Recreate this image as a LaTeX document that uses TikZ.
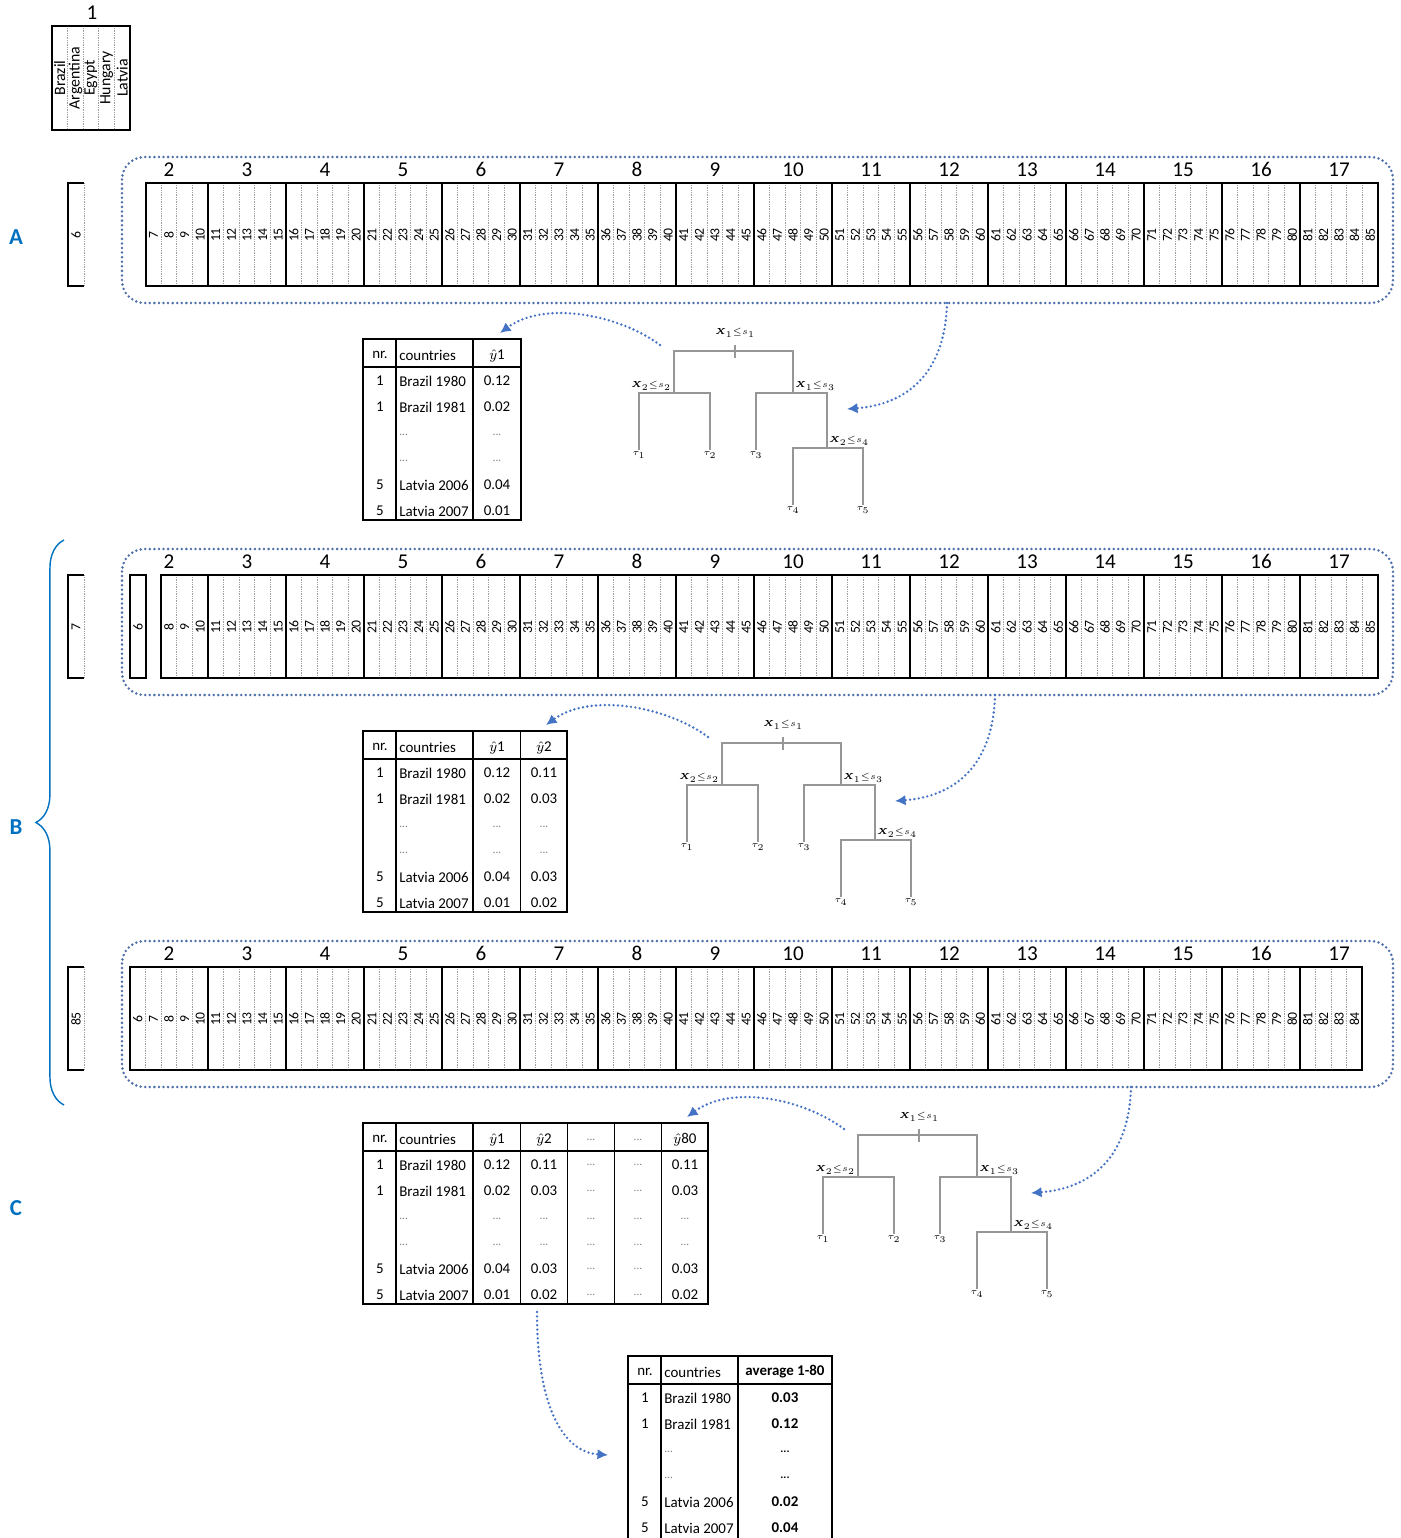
\documentclass[tikz,border=0pt]{standalone}
\usepackage{bm}
\usepackage{fontspec}
\setmainfont{Carlito}
\usetikzlibrary{arrows.meta,calc,decorations.pathreplacing}

\definecolor{frameblue}{RGB}{79,112,170}
\definecolor{flowblue}{RGB}{68,114,196}
\definecolor{letterblue}{RGB}{0,112,192}
\definecolor{branchgray}{RGB}{150,150,150}

\newcommand{\tdots}{{\fontsize{6.5}{6.5}\selectfont\textcolor{gray}{...}}}
\newcommand{\avgdots}{{\fontsize{6.5}{6.5}\selectfont\bfseries ...}}

\tikzset{
  heavy/.style={line width=1.1pt},
  colsep/.style={gray!75, line width=0.5pt, dash pattern=on 0.5pt off 0.5pt},
  dotframe/.style={frameblue, line width=1.6pt, dash pattern=on 0pt off 2.6pt, line cap=round, rounded corners=0.45cm},
  flow/.style={flowblue, line width=1.5pt, dash pattern=on 0pt off 2.5pt, line cap=round, -{Latex[length=6pt,width=6pt]}},
  grplbl/.style={font=\fontsize{12}{12}\selectfont, inner sep=0pt, anchor=base},
  colnum/.style={font=\fontsize{7.8}{7.8}\selectfont, rotate=90, inner sep=0pt},
  ctry/.style={font=\fontsize{9}{9}\selectfont, rotate=90, inner sep=0pt},
  tabtxt/.style={font=\fontsize{8.5}{8.5}\selectfont, inner sep=0pt},
  tabbold/.style={font=\fontsize{8.5}{8.5}\selectfont\bfseries, inner sep=0pt},
  tabline/.style={line width=0.9pt},
  tabgrid/.style={line width=0.6pt},
  branch/.style={branchgray, line width=0.9pt},
  split/.style={font=\fontsize{4}{4}\selectfont, inner sep=0pt},
  leaf/.style={font=\fontsize{4.5}{4.5}\selectfont, inner sep=1pt, anchor=north},
  partlbl/.style={font=\fontsize{13}{13}\selectfont\bfseries, text=letterblue}
}

\begin{document}
\begin{tikzpicture}[x=0.02cm,y=-0.02cm]
\useasboundingbox (0,0) rectangle (1400,1538);

% country box
\node[grplbl] (g1) at (92,19) {1};
\foreach \i in {1,...,4}
  \draw[colsep] ({52+\i*15.6},26) -- ({52+\i*15.6},130);
\draw[heavy] (52,26) rectangle (130,130);
\foreach \n [count=\i] in {Brazil,Argentina,Egypt,Hungary,Latvia}
  \node[ctry] (ctry\i) at ({52+(\i-0.5)*15.6},78) {\n};

% part labels
\node[partlbl] (partA) at (16,237) {A};
\node[partlbl] (partB) at (16,827) {B};
\node[partlbl] (partC) at (16,1208) {C};
\draw[letterblue, line width=0.8pt, decorate, decoration={brace, amplitude=16pt}] (64,1105) -- (64,540);

% strips
\foreach \rw/\dy/\first/\last/\side in {a/0/7/85/6, b/392/8/85/7, c/784/6/84/85} {
  \begin{scope}[shift={(0,\dy)}]
    \draw[dotframe] (122,157) rectangle (1393,303);
    \foreach \k in {2,...,17}
      \node[grplbl] (\rw-g\k) at ({169+(\k-2)*78},176) {\k};
    \foreach \j in {\first,...,\last} {
      \draw[colsep] ({130+(\j-6)*15.6},183) -- ({130+(\j-6)*15.6},286);
      \node[colnum] (\rw-c\j) at ({137.8+(\j-6)*15.6},235) {\j};
    }
    \foreach \m in {1,...,15}
      \draw[heavy] ({130+\m*78},183) -- ({130+\m*78},286);
    \draw[heavy] ({130+(\first-6)*15.6},183) rectangle ({130+(\last-5)*15.6},286);
    % held out column
    \draw[colsep] (84,183) -- (84,286);
    \draw[heavy] (84,183) -- (68,183) -- (68,286) -- (84,286);
    \node[colnum] (\rw-side) at (76,235) {\side};
  \end{scope}
}
\draw[heavy] (130,575) rectangle (146,678);
\node[colnum] (b-c6) at (138,627) {6};

% tables
\foreach \tb/\tx/\ty/\tr/\th in {a/363/339/521/181, b/363/731/567/181, c/363/1123/708/181, d/628/1356/832/185} {
  \begin{scope}[shift={(\tx,\ty)}]
    \draw[tabgrid] (33,0) -- (33,\th);
    \draw[tabgrid] (110,0) -- (110,\th);
    \draw[tabline] (0,28) -- ({\tr-\tx},28);
    \draw[tabline] (0,0) rectangle ({\tr-\tx},\th);
    \node[tabtxt] (\tb-nr) at (17,16) {nr.};
    \node[tabtxt, anchor=west] (\tb-ctry) at (36,16) {countries};
    \foreach \n/\c/\ry in {1/Brazil 1980/42, 1/Brazil 1981/68, {}/{\tdots}/96, {}/{\tdots}/122, 5/Latvia 2006/146, 5/Latvia 2007/172} {
      \node[tabtxt] (\tb-nr\ry) at (17,\ry) {\n};
      \node[tabtxt, anchor=west] (\tb-ctry\ry) at (36,\ry) {\c};
    }
  \end{scope}
  \coordinate (\tb-tab) at ({\tr-21},{\ty-6});
}
\foreach \ty/\cx/\hd/\va/\vb/\ve/\vf in {
  339/497/{$\hat{y}$1}/0.12/0.02/0.04/0.01,
  731/497/{$\hat{y}$1}/0.12/0.02/0.04/0.01,
  731/544/{$\hat{y}$2}/0.11/0.03/0.03/0.02,
  1123/497/{$\hat{y}$1}/0.12/0.02/0.04/0.01,
  1123/544/{$\hat{y}$2}/0.11/0.03/0.03/0.02,
  1123/591/{\tdots}/{\tdots}/{\tdots}/{\tdots}/{\tdots},
  1123/638/{\tdots}/{\tdots}/{\tdots}/{\tdots}/{\tdots},
  1123/685/{$\hat{y}$80}/0.11/0.03/0.03/0.02} {
  \draw[tabgrid] ({\cx+23.5},\ty) -- ({\cx+23.5},{\ty+181});
  \node[tabtxt] (v\ty-\cx-h) at (\cx,{\ty+17}) {\hd};
  \node[tabtxt] (v\ty-\cx-1) at (\cx,{\ty+42}) {\va};
  \node[tabtxt] (v\ty-\cx-2) at (\cx,{\ty+68}) {\vb};
  \node[tabtxt] (v\ty-\cx-3) at (\cx,{\ty+96}) {\tdots};
  \node[tabtxt] (v\ty-\cx-4) at (\cx,{\ty+122}) {\tdots};
  \node[tabtxt] (v\ty-\cx-5) at (\cx,{\ty+146}) {\ve};
  \node[tabtxt] (v\ty-\cx-6) at (\cx,{\ty+172}) {\vf};
}
\node[tabbold] (avg-h) at (785,1372) {average 1-80};
\foreach \v/\ry in {0.03/1398, 0.12/1424, {\avgdots}/1452, {\avgdots}/1478, 0.02/1502, 0.04/1528}
  \node[tabbold] (avg\ry) at (785,\ry) {\v};

% trees
\foreach \tn/\dx/\dy in {a/0/0, b/48/392, c/184/784} {
  \begin{scope}[shift={(\dx,\dy)}]
    \coordinate (\tn-r) at (735,351);
    \coordinate (\tn-l) at (674,393);
    \coordinate (\tn-m) at (793,393);
    \coordinate (\tn-n) at (827,448);
    \node[split] (\tn-s1) at (735,333) {$\bm{X}_1{\leq}s_1$};
    \node[split] (\tn-s2) at (651,386) {$\bm{X}_2{\leq}s_2$};
    \node[split] (\tn-s3) at (815,386) {$\bm{X}_1{\leq}s_3$};
    \node[split] (\tn-s4) at (849,441) {$\bm{X}_2{\leq}s_4$};
    \node[leaf] (\tn-1) at (639,450) {$\tau_1$};
    \node[leaf] (\tn-2) at (710,450) {$\tau_2$};
    \node[leaf] (\tn-3) at (756,450) {$\tau_3$};
    \node[leaf] (\tn-4) at (793,505) {$\tau_4$};
    \node[leaf] (\tn-5) at (863,505) {$\tau_5$};
    \draw[branch] (\tn-l) |- (\tn-r) -| (\tn-m);
    \draw[branch] (\tn-1) |- (\tn-l) -| (\tn-2);
    \draw[branch] (\tn-3) |- (\tn-m) -| (\tn-n);
    \draw[branch] (\tn-4) |- (\tn-n) -| (\tn-5);
    \draw[branch] (735,345) -- (735,358);
    \coordinate (\tn-frame) at (947,303);
    \coordinate (\tn-in) at (847,409);
    \coordinate (\tn-out) at (660,345);
  \end{scope}
}

% arrows
\foreach \tn in {a,b,c} {
  \draw[flow] (\tn-frame) .. controls +(-2,77) and +(53,-4) .. (\tn-in);
  \draw[flow] (\tn-out) .. controls +(-40,-30) and +(45,-33) .. (\tn-tab);
}
\coordinate (c-bot) at (537,1312);
\coordinate (d-in) at (608,1455);
\draw[flow] (c-bot) .. controls +(0,95) and +(-45,-3) .. (d-in);
\end{tikzpicture}
\end{document}
